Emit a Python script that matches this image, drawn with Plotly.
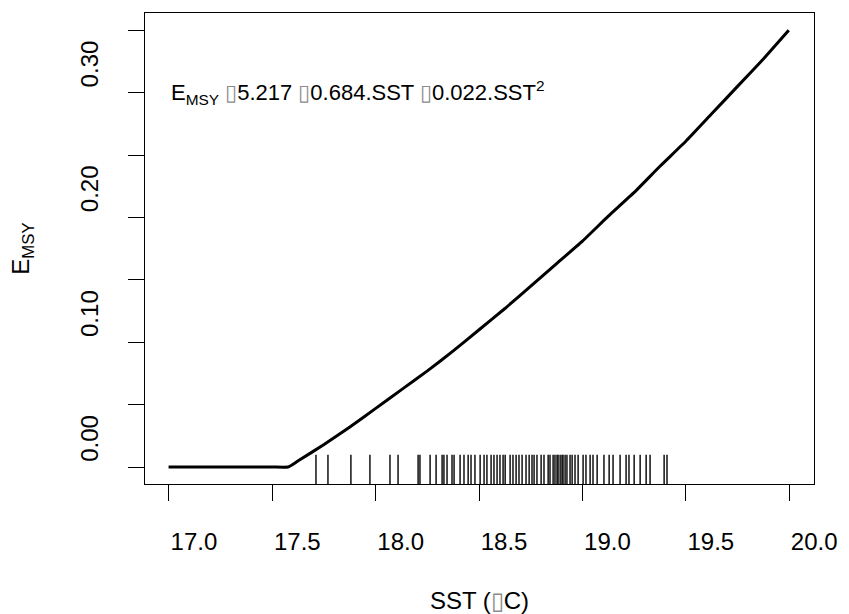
import plotly.graph_objects as go

# Fitted E_MSY response to sea-surface temperature
sst = [16.998, 17.25, 17.5, 17.576, 17.625, 17.75, 17.875, 18.0, 18.125,
       18.25, 18.375, 18.5, 18.625, 18.75, 18.875, 19.0, 19.125, 19.25,
       19.375, 19.5, 19.625, 19.75, 19.875, 19.998]
emsy = [0.0, 0.0, 0.0, 0.0, 0.005, 0.018, 0.032, 0.047, 0.062,
        0.077, 0.093, 0.110, 0.127, 0.145, 0.163, 0.181, 0.201, 0.220,
        0.241, 0.261, 0.283, 0.305, 0.327, 0.350]

# Observed SST values shown as a rug along the x axis
rug_sst = [17.711, 17.769, 17.880, 17.972, 18.069, 18.108, 18.205, 18.214,
           18.263, 18.292, 18.321, 18.330, 18.345, 18.369, 18.379, 18.408,
           18.427, 18.447, 18.461, 18.480, 18.505, 18.524, 18.538, 18.558,
           18.572, 18.587, 18.601, 18.616, 18.626, 18.650, 18.664, 18.679,
           18.693, 18.708, 18.727, 18.742, 18.756, 18.766, 18.780, 18.800,
           18.814, 18.834, 18.843, 18.858, 18.867, 18.877, 18.882, 18.892,
           18.901, 18.906, 18.916, 18.925, 18.940, 18.950, 18.964, 18.979,
           19.003, 19.017, 19.037, 19.051, 19.071, 19.104, 19.129, 19.148,
           19.182, 19.211, 19.225, 19.250, 19.279, 19.308, 19.327, 19.395,
           19.409]

x_ticks = [17.0, 17.5, 18.0, 18.5, 19.0, 19.5, 20.0]
x_labels = ["17.0", "17.5", "18.0", "18.5", "19.0", "19.5", "20.0"]
y_ticks = [0.0, 0.05, 0.10, 0.15, 0.20, 0.25, 0.30, 0.35]
y_labels = ["0.00", "", "0.10", "", "0.20", "", "0.30", ""]

FONT = "Liberation Sans, Arial, sans-serif"
# placeholder glyph box, as printed where the symbol font was unavailable
tofu = '<span style="color:#8c8c8c">\u25af</span>'

fig = go.Figure()
fig.add_trace(go.Scatter(x=sst, y=emsy, mode="lines",
                         line=dict(color="black", width=3, shape="spline",
                                   smoothing=0.4),
                         showlegend=False, hoverinfo="skip"))

for v in rug_sst:
    fig.add_shape(type="line", xref="x", yref="y domain",
                  x0=v, x1=v, y0=0, y1=0.062,
                  line=dict(color="black", width=1.4))

fig.add_annotation(
    x=17.0, y=0.30, xref="x", yref="y", xanchor="left", yanchor="middle",
    showarrow=False,
    text=(f"E<sub>MSY</sub> {tofu}5.217 {tofu}0.684.SST {tofu}0.022.SST<sup>2</sup>"),
    font=dict(family=FONT, size=22, color="black"))

axis_common = dict(showline=True, linecolor="black", linewidth=1, mirror=True,
                   ticks="outside", ticklen=16, tickwidth=1, tickcolor="black",
                   showgrid=False, zeroline=False, automargin=False,
                   tickfont=dict(family=FONT, size=24, color="black"))

fig.update_xaxes(range=[16.884, 20.120], tickvals=x_ticks, ticktext=x_labels,
                 ticklabelshift=25, ticklabelstandoff=20,
                 title=dict(text=f"SST ({tofu}C)", standoff=44,
                            font=dict(family=FONT, size=24, color="black")),
                 **axis_common)
fig.update_yaxes(range=[-0.01362, 0.3638], tickvals=y_ticks, ticktext=y_labels,
                 tickangle=-90, ticklabelshift=-25, ticklabelstandoff=20,
                 title=dict(text="E<sub>MSY</sub>", standoff=40,
                            font=dict(family=FONT, size=24, color="black")),
                 **axis_common)

fig.update_layout(width=849, height=614,
                  margin=dict(l=145, r=35, t=13, b=130),
                  plot_bgcolor="white", paper_bgcolor="white")

fig.write_html("out.html")
